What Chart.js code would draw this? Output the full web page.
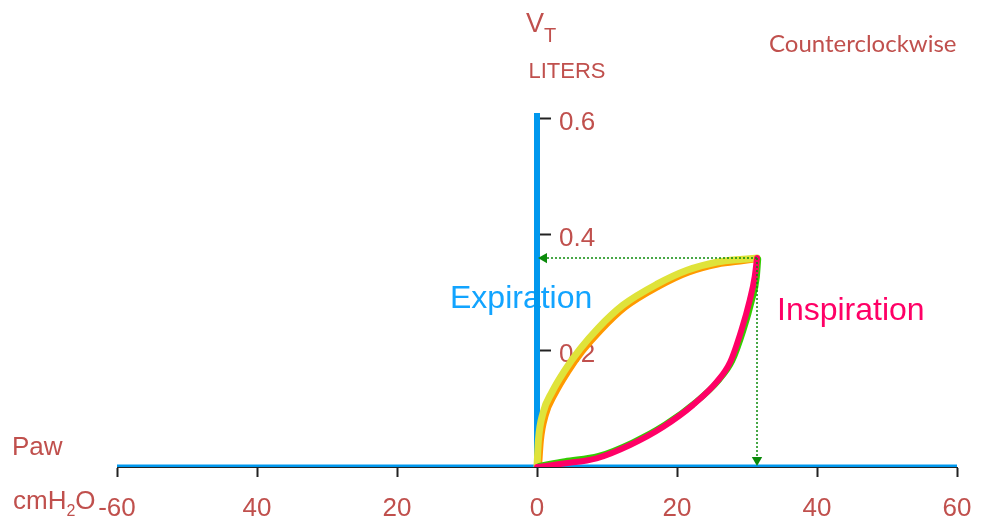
<!DOCTYPE html>
<html>
<head>
<meta charset="utf-8">
<script src="https://cdn.jsdelivr.net/npm/chart.js@4.4.1/dist/chart.umd.min.js"></script>
<style>
  html, body { margin: 0; padding: 0; background: #ffffff; }
  #wrap { width: 981px; height: 524px; }
</style>
</head>
<body>
<div id="wrap"><canvas id="loop" width="981" height="524"></canvas></div>
<script>
// Axis ticks and their printed labels
const xTicks = [-60, -40, -20, 0, 20, 40, 60];
const xTickLabels = ['-60', '40', '20', '0', '20', '40', '60'];
const yTicks = [0.2, 0.4, 0.6];
const yTickLabels = ['0.2', '0.4', '0.6'];
const yAxisTop = 0.61;

// Inspiration limb: airway pressure (cmH2O) and tidal volume (L)
const inspPaw = [0, 3.8, 8.5, 13.3, 18.0, 22.3, 25.7, 27.6, 29.2, 30.4, 31.1, 31.43];
const inspVol = [0, 0.006, 0.015, 0.038, 0.069, 0.107, 0.147, 0.181, 0.236, 0.288, 0.328, 0.360];
// Reference trace under the inspiration limb
const inspRefPaw = [0.3, 4.0, 8.8, 13.6, 18.3, 22.6, 26.0, 27.9, 29.5, 30.7, 31.4, 31.6];
const inspRefVol = [0.002, 0.010, 0.019, 0.042, 0.073, 0.111, 0.150, 0.183, 0.236, 0.287, 0.327, 0.358];

// Expiration limb, zero to end-inspiration
const expPaw = [0, 0.21, 0.86, 2.14, 4.0, 6.14, 8.71, 12.29, 17.14, 21.43, 25.71, 29.43, 31.43];
const expVol = [0, 0.047, 0.093, 0.129, 0.167, 0.203, 0.239, 0.279, 0.315, 0.339, 0.353, 0.358, 0.360];
// Reference trace under the expiration limb
const expRefPaw = [0.3, 0.55, 1.25, 2.55, 4.4, 6.5, 9.1, 12.6, 17.4, 21.6, 25.8, 29.5, 31.43];
const expRefVol = [0.002, 0.045, 0.089, 0.125, 0.163, 0.199, 0.235, 0.275, 0.311, 0.335, 0.349, 0.355, 0.358];

const pts = (xs, ys) => xs.map((x, i) => ({ x, y: ys[i] }));

const peakPaw = inspPaw[inspPaw.length - 1];
const peakVol = inspVol[inspVol.length - 1];

const RED = '#c0504d';
const AXIS_BLUE = '#0098ee';
const TEXT_BLUE = '#12a4ff';
const PINK = '#ff0066';
const GUIDE = '#0a8a0a';
const SANS = "'Liberation Sans', Arial, sans-serif";

// Free text labels around the plot
const loopLabels = {
  id: 'loopLabels',
  beforeDatasetsDraw(chart) {
    const ctx = chart.ctx;
    ctx.save();
    ctx.textAlign = 'left';
    ctx.textBaseline = 'alphabetic';
    ctx.fillStyle = RED;

    ctx.font = '27px ' + SANS;
    ctx.fillText('V', 526, 32);
    ctx.font = '20px ' + SANS;
    ctx.fillText('T', 544, 41.5);
    ctx.font = '22px ' + SANS;
    ctx.fillText('LITERS', 528.5, 78);

    ctx.font = "24px Lato, 'Open Sans', sans-serif";
    ctx.fillText('Counterclockwise', 769, 52);

    ctx.font = '26px ' + SANS;
    ctx.fillText('Paw', 12, 455);
    let x = 13;
    ctx.fillText('cmH', x, 509);
    x += ctx.measureText('cmH').width;
    ctx.font = '16px ' + SANS;
    ctx.fillText('2', x, 516);
    x += ctx.measureText('2').width;
    ctx.font = '26px ' + SANS;
    ctx.fillText('O', x, 509);

    ctx.font = '32px ' + SANS;
    ctx.fillStyle = TEXT_BLUE;
    ctx.fillText('Expiration', 450, 308);
    ctx.fillStyle = PINK;
    ctx.fillText('Inspiration', 777, 320);
    ctx.restore();
  }
};

// The volume axis sits on Paw = 0 with its ticks and labels on the right
const volumeAxisAtZero = {
  id: 'volumeAxisAtZero',
  afterLayout(chart) {
    const y = chart.scales.y;
    const px = chart.scales.x.getPixelForValue(0);
    y.left = px;
    y.right = px + 120;
    y.width = 120;
  }
};

const curve = (label, data, color, width) => ({
  label,
  data,
  borderColor: color,
  borderWidth: width,
  cubicInterpolationMode: 'monotone',
  pointRadius: 0,
  borderCapStyle: 'round',
  borderJoinStyle: 'round'
});

new Chart(document.getElementById('loop'), {
  type: 'line',
  data: {
    datasets: [
      {
        label: 'arrow-left',
        data: [{ x: 1.0, y: peakVol }],
        showLine: false,
        pointStyle: 'triangle',
        rotation: -90,
        pointRadius: 6,
        pointBackgroundColor: GUIDE,
        pointBorderColor: GUIDE,
        pointBorderWidth: 0
      },
      {
        label: 'arrow-down',
        data: [{ x: peakPaw, y: 0.012 }],
        showLine: false,
        pointStyle: 'triangle',
        rotation: 180,
        pointRadius: 6,
        pointBackgroundColor: GUIDE,
        pointBorderColor: GUIDE,
        pointBorderWidth: 0
      },
      {
        label: 'guide-h',
        data: [{ x: peakPaw, y: peakVol }, { x: 1.0, y: peakVol }],
        borderColor: GUIDE,
        borderWidth: 1.5,
        borderDash: [2, 2],
        pointRadius: 0
      },
      {
        label: 'guide-v',
        data: [{ x: peakPaw, y: peakVol }, { x: peakPaw, y: 0.012 }],
        borderColor: GUIDE,
        borderWidth: 1.5,
        borderDash: [2, 2],
        pointRadius: 0
      },
      curve('Inspiration', pts(inspPaw, inspVol), PINK, 6),
      curve('Inspiration ref', pts(inspRefPaw, inspRefVol), '#33cc00', 6),
      curve('Expiration', pts(expPaw, expVol), '#dfe33a', 7),
      curve('Expiration ref', pts(expRefPaw, expRefVol), '#ff9900', 6),
      {
        label: 'Paw axis',
        data: [{ x: xTicks[0], y: 0 }, { x: xTicks[xTicks.length - 1], y: 0 }],
        borderColor: AXIS_BLUE,
        borderWidth: 5,
        pointRadius: 0
      },
      {
        label: 'Volume axis',
        data: [{ x: 0, y: 0 }, { x: 0, y: yAxisTop }],
        borderColor: AXIS_BLUE,
        borderWidth: 6,
        pointRadius: 0
      }
    ]
  },
  options: {
    responsive: false,
    animation: false,
    devicePixelRatio: 1,
    layout: { padding: { left: 117, right: 24, top: 113, bottom: 0 } },
    plugins: {
      legend: { display: false },
      tooltip: { enabled: false },
      title: { display: false }
    },
    elements: { line: { fill: false } },
    scales: {
      x: {
        type: 'linear',
        position: 'bottom',
        min: xTicks[0],
        max: xTicks[xTicks.length - 1],
        afterBuildTicks: (s) => { s.ticks = xTicks.map(v => ({ value: v })); },
        afterFit: (s) => { s.height = 57; s.paddingLeft = 0; s.paddingRight = 0; },
        ticks: {
          autoSkip: false,
          maxRotation: 0,
          padding: 16,
          color: RED,
          font: { family: SANS, size: 26 },
          callback: (v, i) => xTickLabels[i]
        },
        grid: { drawOnChartArea: false, drawTicks: true, tickLength: 10, tickWidth: 2, tickColor: '#222222' },
        border: { display: true, color: '#222222', width: 1 }
      },
      y: {
        type: 'linear',
        position: 'right',
        min: 0,
        max: yAxisTop,
        afterBuildTicks: (s) => { s.ticks = yTicks.map(v => ({ value: v })); },
        afterFit: (s) => { s.width = 0; s.paddingTop = 0; s.paddingBottom = 0; },
        ticks: {
          padding: 8,
          labelOffset: 4,
          color: RED,
          font: { family: SANS, size: 26 },
          callback: (v, i) => yTickLabels[i]
        },
        grid: { drawOnChartArea: false, drawTicks: true, tickLength: 14, tickWidth: 2, tickColor: '#222222' },
        border: { display: true, color: '#222222', width: 1 }
      }
    }
  },
  plugins: [loopLabels, volumeAxisAtZero]
});
</script>
</body>
</html>
